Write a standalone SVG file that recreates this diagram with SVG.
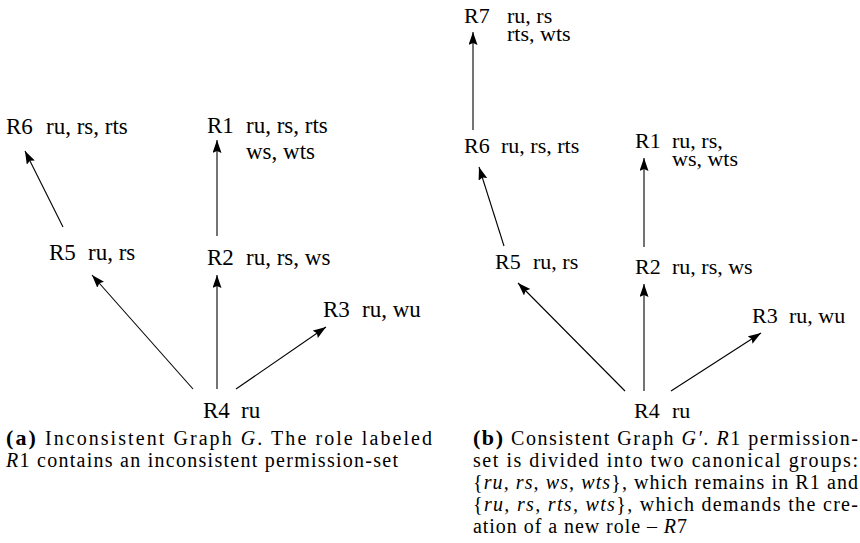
<svg xmlns="http://www.w3.org/2000/svg" width="860" height="543" viewBox="0 0 860 543">
<defs>
<marker id="ah" markerUnits="userSpaceOnUse" markerWidth="14" markerHeight="10" refX="13" refY="4.5" orient="auto">
<path d="M0,0 L13,4.5 L0,9 L2,4.5 z" fill="#000"/>
</marker>
<style>
.n{font-family:"Liberation Serif","Times New Roman",serif;font-size:22px;fill:#000}
.L{font-size:23px}
.c{font-family:"Liberation Serif","Times New Roman",serif;font-size:20px;fill:#000}
.b{font-weight:bold;font-size:22px}
.i{font-style:italic}
.e{stroke:#000;stroke-width:1.1;fill:none;marker-end:url(#ah)}
</style>
</defs>
<rect width="860" height="543" fill="#fff"/>
<g id="edges">
<line class="e" x1="63" y1="227" x2="25" y2="151"/>
<line class="e" x1="217" y1="236" x2="217" y2="140"/>
<line class="e" x1="193" y1="389" x2="92" y2="275"/>
<line class="e" x1="217" y1="389" x2="217" y2="275"/>
<line class="e" x1="236" y1="389" x2="326" y2="327"/>
<line class="e" x1="473" y1="130" x2="473" y2="32"/>
<line class="e" x1="644" y1="247" x2="644" y2="158"/>
<line class="e" x1="504" y1="246" x2="479" y2="167"/>
<line class="e" x1="625" y1="391" x2="518" y2="283"/>
<line class="e" x1="644" y1="391" x2="644" y2="284"/>
<line class="e" x1="671" y1="391" x2="761" y2="333"/>
</g>
<g id="a_R6"><text class="n L" x="6" y="134">R6</text><text class="n L" x="46" y="134">ru, rs, rts</text></g>
<g id="a_R1"><text class="n L" x="207" y="133">R1</text><text class="n L" y="133"><tspan x="246">ru, rs, rts</tspan><tspan x="246" dy="26">ws, wts</tspan></text></g>
<g id="a_R5"><text class="n L" x="49" y="260">R5</text><text class="n L" x="88" y="260">ru, rs</text></g>
<g id="a_R2"><text class="n L" x="207" y="265">R2</text><text class="n L" x="246" y="265">ru, rs, ws</text></g>
<g id="a_R3"><text class="n L" x="323" y="317">R3</text><text class="n L" x="362" y="317">ru, wu</text></g>
<g id="a_R4"><text class="n L" x="203" y="418">R4</text><text class="n L" x="241" y="418">ru</text></g>
<g id="b_R7"><text class="n" x="464" y="23">R7</text><text class="n" y="23"><tspan x="507">ru, rs</tspan><tspan x="507" dy="18">rts, wts</tspan></text></g>
<g id="b_R6"><text class="n" x="464" y="153">R6</text><text class="n" x="501" y="153">ru, rs, rts</text></g>
<g id="b_R1"><text class="n" x="635" y="148">R1</text><text class="n" y="148"><tspan x="672">ru, rs,</tspan><tspan x="672" dy="18">ws, wts</tspan></text></g>
<g id="b_R5"><text class="n" x="495" y="269">R5</text><text class="n" x="533" y="269">ru, rs</text></g>
<g id="b_R2"><text class="n" x="635" y="274">R2</text><text class="n" x="672" y="274">ru, rs, ws</text></g>
<g id="b_R3"><text class="n" x="752" y="323">R3</text><text class="n" x="789" y="323">ru, wu</text></g>
<g id="b_R4"><text class="n" x="634" y="418">R4</text><text class="n" x="672" y="418">ru</text></g>
<g id="caption_a">
<text class="c" x="6" y="445" textLength="426" lengthAdjust="spacing"><tspan class="b">(a)</tspan> Inconsistent Graph <tspan class="i">G</tspan>. The role labeled</text>
<text class="c" x="6" y="467" textLength="392" lengthAdjust="spacing"><tspan class="i">R</tspan>1 contains an inconsistent permission-set</text>
</g>
<g id="caption_b">
<text class="c" x="473" y="445" textLength="385" lengthAdjust="spacing"><tspan class="b">(b)</tspan> Consistent Graph <tspan class="i">G′</tspan>. <tspan class="i">R</tspan>1 permission-</text>
<text class="c" x="473" y="467" textLength="385" lengthAdjust="spacing">set is divided into two canonical groups:</text>
<text class="c" x="473" y="489" textLength="385" lengthAdjust="spacing">{<tspan class="i">ru, rs, ws, wts</tspan>}, which remains in R1 and</text>
<text class="c" x="473" y="511" textLength="385" lengthAdjust="spacing">{<tspan class="i">ru, rs, rts, wts</tspan>}, which demands the cre-</text>
<text class="c" x="473" y="533" textLength="214" lengthAdjust="spacing">ation of a new role – <tspan class="i">R</tspan>7</text>
</g>
</svg>
